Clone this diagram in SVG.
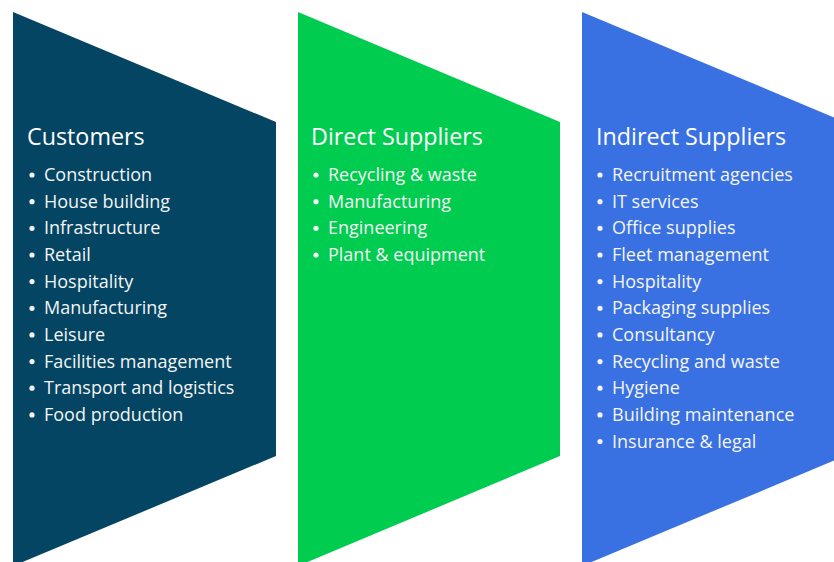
<svg xmlns="http://www.w3.org/2000/svg" width="834" height="562" viewBox="0 0 834 562">
<style>
.t{font-family:"Open Sans","Liberation Sans",sans-serif;fill:#ffffff;font-size:23.3px}
.i{font-family:"Open Sans","Liberation Sans",sans-serif;fill:#f4f4f4;font-size:18px}
.b{fill:#f4f4f4}
</style>
<rect width="834" height="562" fill="#ffffff"/>
<g id="customers">
<polygon points="13,12 276,122 276,456 13,566" fill="#034563"/>
<text class="t" x="27" y="145">Customers</text>
<g class="b"><circle cx="32" cy="175" r="2.6"/><circle cx="32" cy="201.7" r="2.6"/><circle cx="32" cy="228.3" r="2.6"/><circle cx="32" cy="255" r="2.6"/><circle cx="32" cy="281.6" r="2.6"/><circle cx="32" cy="308.3" r="2.6"/><circle cx="32" cy="334.9" r="2.6"/><circle cx="32" cy="361.6" r="2.6"/><circle cx="32" cy="388.2" r="2.6"/><circle cx="32" cy="414.9" r="2.6"/></g>
<text class="i" x="44" y="181">Construction</text>
<text class="i" x="44" y="207.7">House building</text>
<text class="i" x="44" y="234.3">Infrastructure</text>
<text class="i" x="44" y="261">Retail</text>
<text class="i" x="44" y="287.6">Hospitality</text>
<text class="i" x="44" y="314.3">Manufacturing</text>
<text class="i" x="44" y="340.9">Leisure</text>
<text class="i" x="44" y="367.6">Facilities management</text>
<text class="i" x="44" y="394.2">Transport and logistics</text>
<text class="i" x="44" y="420.9">Food production</text>
</g>
<g id="direct">
<polygon points="298,12 560,122 560,456 298,566" fill="#00cc50"/>
<text class="t" x="311" y="145">Direct Suppliers</text>
<g class="b"><circle cx="316" cy="175" r="2.6"/><circle cx="316" cy="201.7" r="2.6"/><circle cx="316" cy="228.3" r="2.6"/><circle cx="316" cy="255" r="2.6"/></g>
<text class="i" x="328" y="181">Recycling &amp; waste</text>
<text class="i" x="328" y="207.7">Manufacturing</text>
<text class="i" x="328" y="234.3">Engineering</text>
<text class="i" x="328" y="261">Plant &amp; equipment</text>
</g>
<g id="indirect">
<polygon points="582,12 845,122 845,456 582,566" fill="#3a71e2"/>
<text class="t" x="596" y="145">Indirect Suppliers</text>
<g class="b"><circle cx="600" cy="175" r="2.6"/><circle cx="600" cy="201.7" r="2.6"/><circle cx="600" cy="228.3" r="2.6"/><circle cx="600" cy="255" r="2.6"/><circle cx="600" cy="281.6" r="2.6"/><circle cx="600" cy="308.3" r="2.6"/><circle cx="600" cy="334.9" r="2.6"/><circle cx="600" cy="361.6" r="2.6"/><circle cx="600" cy="388.2" r="2.6"/><circle cx="600" cy="414.9" r="2.6"/><circle cx="600" cy="441.5" r="2.6"/></g>
<text class="i" x="612" y="181">Recruitment agencies</text>
<text class="i" x="612" y="207.7">IT services</text>
<text class="i" x="612" y="234.3">Office supplies</text>
<text class="i" x="612" y="261">Fleet management</text>
<text class="i" x="612" y="287.6">Hospitality</text>
<text class="i" x="612" y="314.3">Packaging supplies</text>
<text class="i" x="612" y="340.9">Consultancy</text>
<text class="i" x="612" y="367.6">Recycling and waste</text>
<text class="i" x="612" y="394.2">Hygiene</text>
<text class="i" x="612" y="420.9">Building maintenance</text>
<text class="i" x="612" y="447.5">Insurance &amp; legal</text>
</g>
<g id="connectors"/>
</svg>
